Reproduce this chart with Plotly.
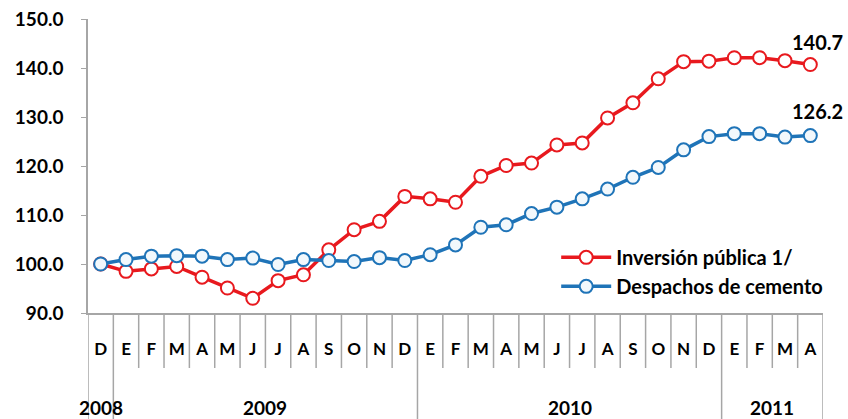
import plotly.graph_objects as go

# Monthly index, Dec 2008 = 100
months = ["D", "E", "F", "M", "A", "M", "J", "J", "A", "S", "O", "N", "D",
          "E", "F", "M", "A", "M", "J", "J", "A", "S", "O", "N", "D",
          "E", "F", "M", "A"]
years = ["2008", "2009", "2010", "2011"]
year_len = [1, 12, 12, 4]

inversion = [100.0, 98.5, 99.0, 99.5, 97.3, 95.1, 93.0, 96.6, 97.8, 102.9, 107.0, 108.7, 113.8,
             113.3, 112.6, 117.9, 120.1, 120.6, 124.3, 124.7, 129.8, 132.9, 137.8, 141.3, 141.4,
             142.1, 142.1, 141.5, 140.7]
cemento = [100.0, 100.9, 101.6, 101.7, 101.6, 100.9, 101.2, 99.9, 100.9, 100.7, 100.5, 101.3, 100.7,
           101.9, 103.9, 107.5, 108.0, 110.3, 111.6, 113.3, 115.3, 117.7, 119.7, 123.3, 126.0,
           126.6, 126.6, 125.9, 126.2]

RED = "#E8191E"
BLUE = "#1F74B8"
GRID = "#A6A6A6"
FONT = "Lato"

x = list(range(len(months)))

fig = go.Figure()
fig.add_trace(go.Scatter(
    x=x, y=inversion, mode="lines+markers", name="Inversión pública 1/",
    line=dict(color=RED, width=3.5),
    marker=dict(size=13, color="white", line=dict(color=RED, width=2)),
))
fig.add_trace(go.Scatter(
    x=x, y=cemento, mode="lines+markers", name="Despachos de cemento",
    line=dict(color=BLUE, width=3.5),
    marker=dict(size=13, color="#F2F8FC", line=dict(color=BLUE, width=2)),
))

# end labels
for series, dy in ((inversion, 9), (cemento, 11)):
    fig.add_annotation(x=x[-1], y=series[-1], text="<b>%.1f</b>" % series[-1],
                       showarrow=False, xanchor="center", yanchor="bottom", yshift=dy, xshift=7,
                       font=dict(family=FONT, size=20, color="black"))

# month separators and year separators below the axis
boundaries = []
start = 0
for n in year_len:
    boundaries.append(start - 0.5)
    start += n
boundaries.append(start - 0.5)

for i in range(len(months) + 1):
    b = i - 0.5
    y0 = -0.37 if b in boundaries else -0.187
    fig.add_shape(type="line", xref="x", yref="paper", x0=b, x1=b, y0=0, y1=y0,
                  line=dict(color=GRID, width=1.5), layer="below")

# year labels
start = 0
for yr, n in zip(years, year_len):
    center = start + (n - 1) / 2
    fig.add_annotation(x=center, y=-0.32, xref="x", yref="paper", text="<b>%s</b>" % yr,
                       showarrow=False, xanchor="center", yanchor="middle",
                       font=dict(family=FONT, size=19, color="black"))
    start += n

fig.update_layout(
    width=848, height=419,
    margin=dict(l=88, r=25, t=19, b=106),
    paper_bgcolor="white", plot_bgcolor="white",
    font=dict(family=FONT, size=15, color="black"),
    showlegend=True,
    legend=dict(x=0.637, y=0.14, xanchor="left", yanchor="middle",
                font=dict(family=FONT, size=20, color="black", weight="bold"),
                itemwidth=50, tracegroupgap=0, bgcolor="rgba(0,0,0,0)"),
    xaxis=dict(range=[-0.5, len(months) - 0.5], tickvals=x, ticktext=["<b>%s</b>" % m for m in months],
               showgrid=False, zeroline=False, showline=True, linecolor=GRID, linewidth=1.5,
               ticks="", ticklabelstandoff=20, tickfont=dict(family=FONT, size=17),
               automargin=False),
    yaxis=dict(range=[90, 150], dtick=10, tickformat=".1f", showgrid=False, zeroline=False,
               showline=True, linecolor=GRID, linewidth=1.5, ticks="outside", ticklen=5,
               tickcolor=GRID, tickfont=dict(family=FONT, size=19, weight="bold"),
               ticklabelstandoff=14, automargin=False),
)

fig.write_html("out.html", config={"displayModeBar": False},
               post_script="document.body.style.margin='0';")
